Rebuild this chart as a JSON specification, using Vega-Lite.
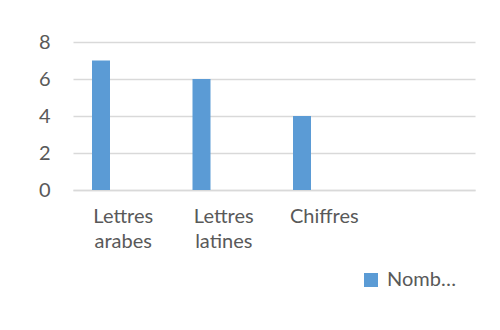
{
  "$schema": "https://vega.github.io/schema/vega-lite/v6.json",
  "autosize": "none",
  "width": 402,
  "height": 148,
  "padding": {"left": 73, "top": 42, "right": 25, "bottom": 140},
  "background": "white",
  "config": {
    "view": {"stroke": null},
    "font": "Lato",
    "axis": {"labelFont": "Lato", "labelFontSize": 20, "labelColor": "#595959", "gridColor": "#d9d9d9", "domainColor": "#d9d9d9", "ticks": false, "title": null}
  },
  "data": {
    "values": [
      {"categorie": "Lettres arabes", "serie": "Nombre", "valeur": 7},
      {"categorie": "Lettres latines", "serie": "Nombre", "valeur": 6},
      {"categorie": "Chiffres", "serie": "Nombre", "valeur": 4}
    ]
  },
  "mark": {"type": "bar"},
  "encoding": {
    "x": {
      "field": "categorie",
      "type": "nominal",
      "sort": null,
      "scale": {"domain": ["Lettres arabes", "Lettres latines", "Chiffres", "_"], "paddingInner": 0, "paddingOuter": 0},
      "axis": {"labelAngle": 0, "labelPadding": 16, "labelBaseline": "top", "labelLineHeight": 25, "domainWidth": 1.5, "labelExpr": "datum.label == '_' ? '' : split(datum.label, ' ')"}
    },
    "xOffset": {
      "field": "serie",
      "type": "nominal",
      "scale": {"domain": ["Nombre", "Série 2"], "paddingInner": 0.5955, "paddingOuter": 0.427}
    },
    "y": {
      "field": "valeur",
      "type": "quantitative",
      "scale": {"domain": [0, 8]},
      "axis": {"values": [0, 2, 4, 6, 8], "domain": false, "labelPadding": 23, "gridWidth": 1.5}
    },
    "color": {
      "field": "serie",
      "type": "nominal",
      "scale": {"range": ["#5b9bd5"]},
      "legend": {"title": null, "orient": "none", "legendX": 288, "legendY": 228, "symbolType": "square", "symbolSize": 196, "symbolStrokeWidth": 0, "labelFont": "Lato", "labelFontSize": 20, "labelColor": "#595959", "labelExpr": "'Nomb…'", "labelOffset": 6}
    }
  }
}
